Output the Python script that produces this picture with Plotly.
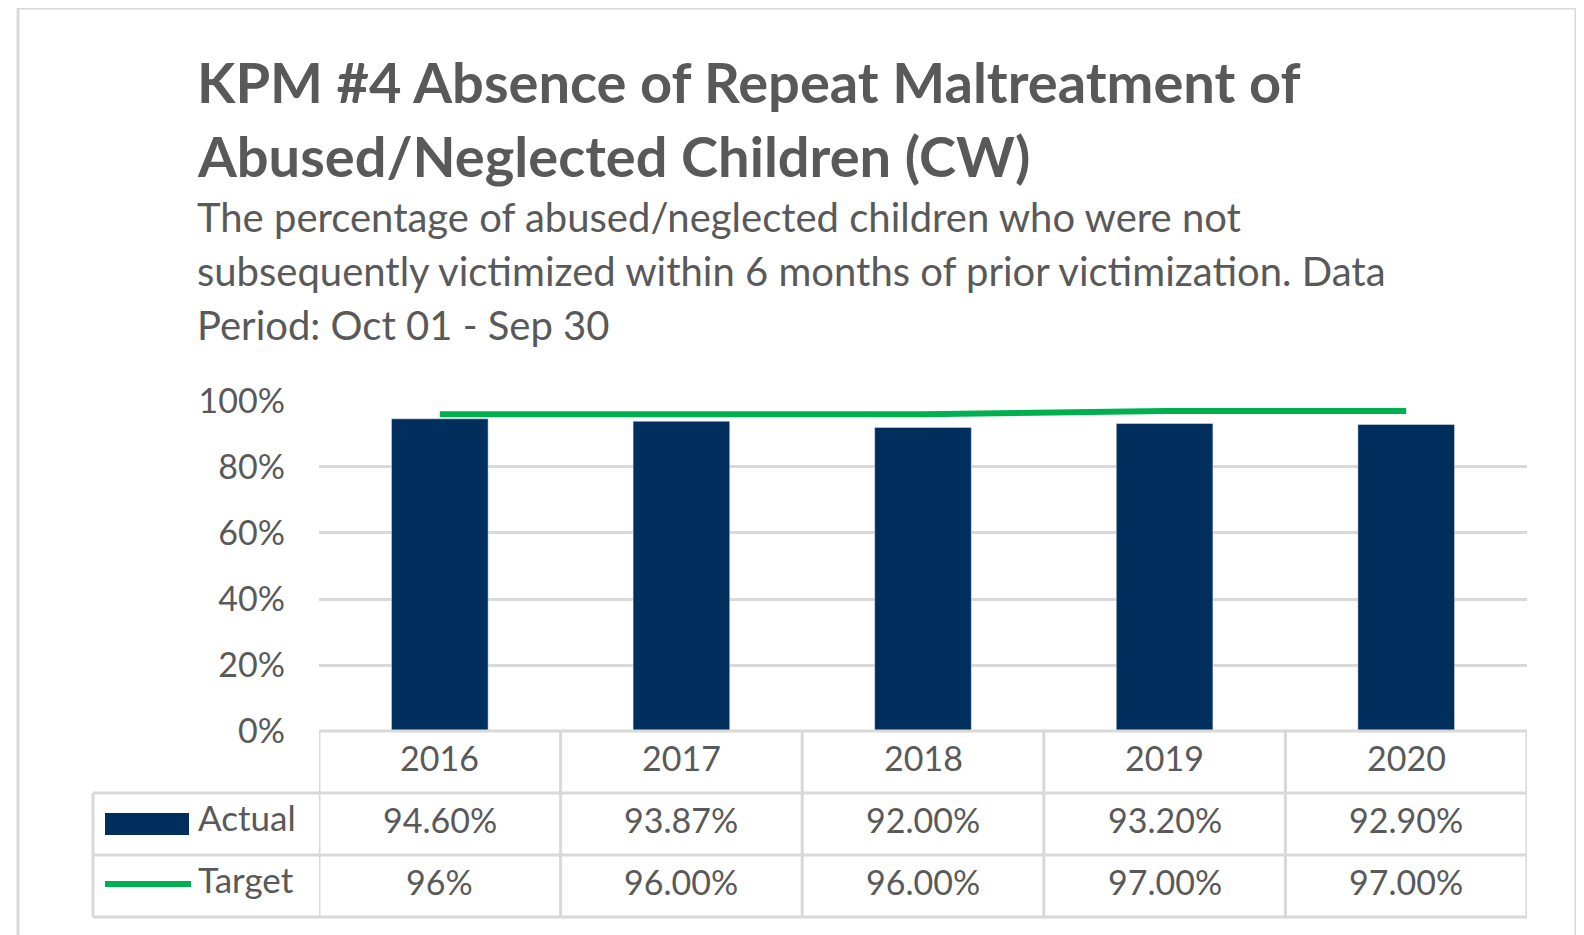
import plotly.graph_objects as go

years = ["2016", "2017", "2018", "2019", "2020"]
actual = [0.9460, 0.9387, 0.9200, 0.9320, 0.9290]
target = [0.96, 0.96, 0.96, 0.97, 0.97]
actual_text = ["94.60%", "93.87%", "92.00%", "93.20%", "92.90%"]
target_text = ["96%", "96.00%", "96.00%", "97.00%", "97.00%"]

title_lines = [
    "KPM #4 Absence of Repeat Maltreatment of",
    "Abused/Neglected Children (CW)",
]
subtitle_lines = [
    "The percentage of abused/neglected children who were not",
    "subsequently victimized within 6 months of prior victimization. Data",
    "Period: Oct 01 - Sep 30",
]

# the page body has an 8px margin, so the figure starts at (8, 8)
OFF = 8
W, H = 1584 - OFF, 935 - OFF
L, R, T, B = 319 - OFF, 1584 - 1527, 400 - OFF, 935 - 731
PW, PH = W - L - R, H - T - B

NAVY = "#002F5E"
GREEN = "#00B050"
GRID = "#D9D9D9"
TXT = "#595959"
FONT = "Lato"


def px(x):
    # page pixel -> paper x
    return (x - OFF - L) / PW


def py(y):
    # page pixel -> paper y
    return (H - B - (y - OFF)) / PH


fig = go.Figure()

fig.add_bar(
    x=years,
    y=actual,
    name="Actual",
    marker_color=NAVY,
    width=0.4,
)
fig.add_scatter(
    x=years,
    y=target,
    name="Target",
    mode="lines",
    line=dict(color=GREEN, width=6),
)

# title + subtitle
for i, line in enumerate(title_lines):
    fig.add_annotation(
        text=f"<b>{line}</b>", xref="paper", yref="paper",
        x=px(195), y=py(81 + i * 75), xanchor="left", yanchor="middle",
        showarrow=False, font=dict(family=FONT, size=56, color=TXT),
    )
for i, line in enumerate(subtitle_lines):
    fig.add_annotation(
        text=line, xref="paper", yref="paper",
        x=px(195), y=py(217 + i * 54), xanchor="left", yanchor="middle",
        showarrow=False, font=dict(family=FONT, size=40, color=TXT),
    )

# data table
row_top = [731, 793, 855]
row_h = 62
tbl_left = 93
for i, yr in enumerate(years):
    for r, txt in enumerate([yr, actual_text[i], target_text[i]]):
        fig.add_annotation(
            text=txt, xref="x", yref="paper", x=i, y=py(row_top[r] + row_h / 2 - 5),
            yanchor="middle", showarrow=False,
            font=dict(family=FONT, size=34, color=TXT),
        )

line_style = dict(color=GRID, width=3)
# horizontal table lines
fig.add_shape(type="line", xref="paper", yref="paper", x0=0, x1=1,
              y0=py(731), y1=py(731), line=line_style)
for y in [793, 855, 917]:
    fig.add_shape(type="line", xref="paper", yref="paper", x0=px(tbl_left), x1=1,
                  y0=py(y), y1=py(y), line=line_style)
# vertical table lines
fig.add_shape(type="line", xref="paper", yref="paper", x0=px(tbl_left), x1=px(tbl_left),
              y0=py(793), y1=py(917), line=line_style)
for k in range(len(years) + 1):
    fig.add_shape(type="line", xref="x", yref="paper", x0=k - 0.5, x1=k - 0.5,
                  y0=py(731), y1=py(917), line=line_style)

# legend keys in the table
fig.add_shape(type="rect", xref="paper", yref="paper", x0=px(105), x1=px(189),
              y0=py(813), y1=py(835), fillcolor=NAVY, line_width=0)
fig.add_shape(type="line", xref="paper", yref="paper", x0=px(105), x1=px(191),
              y0=py(884), y1=py(884), line=dict(color=GREEN, width=6))
for name, r in [("Actual", 1), ("Target", 2)]:
    fig.add_annotation(
        text=name, xref="paper", yref="paper", x=px(196),
        y=py(row_top[r] + row_h / 2 - 7), xanchor="left", yanchor="middle",
        showarrow=False, font=dict(family=FONT, size=35, color=TXT),
    )

# outer frame
fig.add_shape(type="rect", xref="paper", yref="paper", x0=px(18), x1=px(1576),
              y0=py(980), y1=py(8), line=dict(color=GRID, width=3), layer="below")

fig.update_xaxes(
    type="category", range=[-0.5, 4.5], showticklabels=False,
    showgrid=False, showline=False, zeroline=False,
)
fig.update_yaxes(
    range=[0, 1.003], tickvals=[0, 0.2, 0.4, 0.6, 0.8, 1.0], tickformat=".0%",
    showgrid=True, gridcolor=GRID, gridwidth=3, zeroline=False,
    tickfont=dict(family=FONT, size=34, color=TXT), ticklabelstandoff=33,
)
fig.update_layout(
    width=W, height=H,
    margin=dict(l=L, r=R, t=T, b=B, autoexpand=False),
    plot_bgcolor="white", paper_bgcolor="white",
    showlegend=False,
)

fig.write_html("out.html")
